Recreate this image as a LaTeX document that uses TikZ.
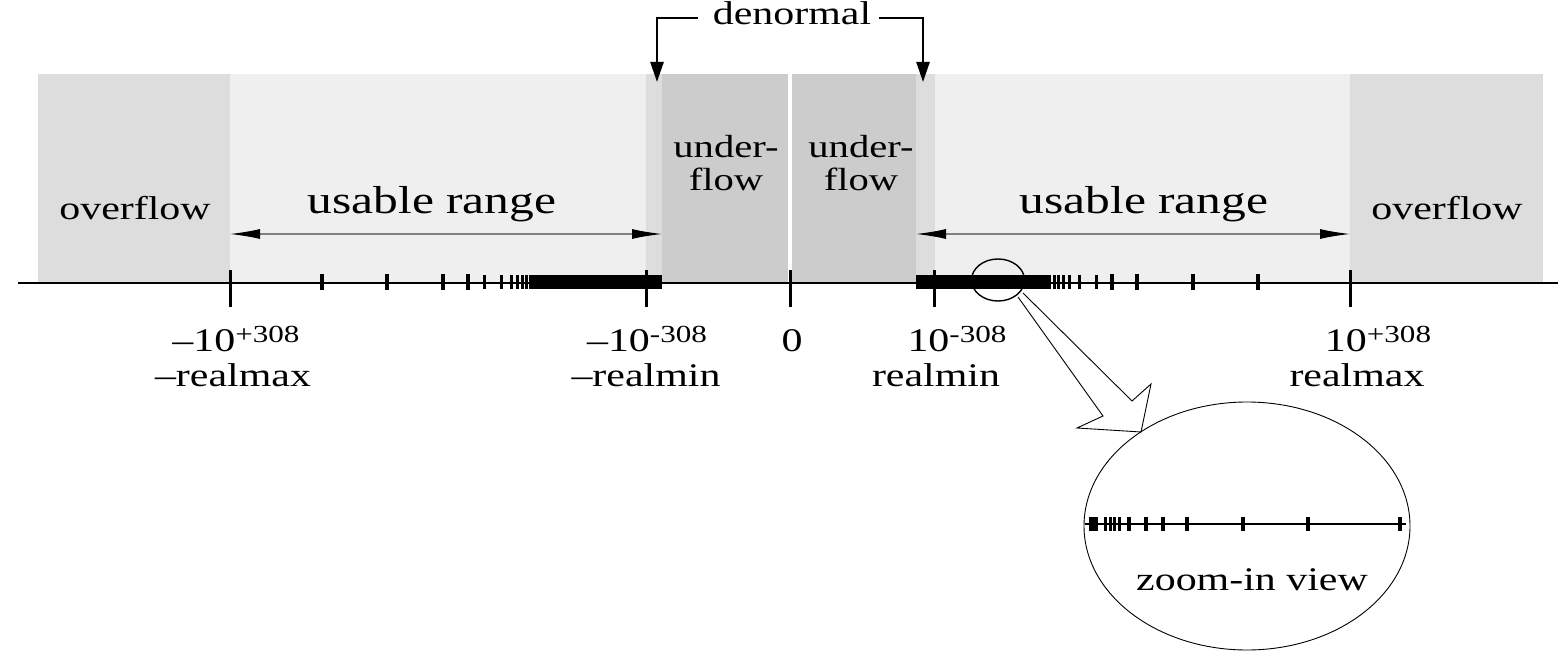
\documentclass[tikz,border=0pt]{standalone}
\usepackage{fontspec}
\setmainfont{Liberation Serif}
\usepackage{graphicx}
\usetikzlibrary{arrows.meta,shapes.geometric}
\definecolor{ovf}{gray}{0.867}
\definecolor{usa}{gray}{0.937}
\definecolor{udf}{gray}{0.80}
\newcommand{\hs}[1]{\scalebox{1.27}[1]{#1}}
\newcommand{\expo}[1]{\raisebox{8.5pt}{\fontsize{24.5}{28}\selectfont #1}}
\tikzset{
  lbl/.style={inner sep=0pt, anchor=base, font=\fontsize{33}{40}\selectfont},
  bigtick/.style={line width=3pt},
  smalltick/.style={line width=3pt},
  axisline/.style={line width=2.5pt},
  rangearrow/.style={draw=gray, line width=1.3pt, {Latex[length=30pt,width=10pt,black]}-{Latex[length=30pt,width=10pt,black]}},
  denarrow/.style={line width=2.5pt, line join=miter, -{Triangle[length=20pt,width=13pt]}},
}
\begin{document}
\begin{tikzpicture}[x=1pt,y=-1pt]
\useasboundingbox (0,0) rectangle (1558,663);
% bands
\fill[ovf] (38,74) rectangle (230,283);
\fill[usa] (230,74) rectangle (646,283);
\fill[ovf] (646,74) rectangle (662,283);
\fill[udf] (662,74) rectangle (788,283);
\fill[udf] (792,74) rectangle (916,283);
\fill[ovf] (916,74) rectangle (935,283);
\fill[usa] (935,74) rectangle (1350,283);
\fill[ovf] (1350,74) rectangle (1543,283);
% texts in bands
\node[lbl] (ovl) at (135,219) {\hs{overflow}};
\node[lbl] (ovr) at (1447,219) {\hs{overflow}};
\node[lbl, font=\fontsize{39}{46}\selectfont] (usl) at (432,214) {\hs{usable range}};
\node[lbl, font=\fontsize{39}{46}\selectfont] (usr) at (1144,214) {\hs{usable range}};
\node[lbl, font=\fontsize{32}{38}\selectfont] (ul1) at (726,158) {\hs{under-}};
\node[lbl, font=\fontsize{32}{38}\selectfont] (ul2) at (726,191) {\hs{flow}};
\node[lbl, font=\fontsize{32}{38}\selectfont] (ur1) at (861,158) {\hs{under-}};
\node[lbl, font=\fontsize{32}{38}\selectfont] (ur2) at (861,191) {\hs{flow}};
% usable range arrows
\coordinate (mrmax) at (230,234);
\coordinate (mrmin) at (662,234);
\coordinate (prmin) at (916,234);
\coordinate (prmax) at (1350,234);
\draw[rangearrow] (mrmax) -- (mrmin);
\draw[rangearrow] (prmin) -- (prmax);
% denormal
\node[lbl] (den) at (792,25) {\hs{denormal}};
\coordinate (dl0) at (698,18);
\coordinate (dl1) at (657,18);
\coordinate (dl2) at (657,82);
\coordinate (dr0) at (879,18);
\coordinate (dr1) at (923,18);
\coordinate (dr2) at (923,82);
\draw[denarrow] (dl0) -- (dl1) -- (dl2);
\draw[denarrow] (dr0) -- (dr1) -- (dr2);
% axis
\coordinate (axl) at (18,283);
\coordinate (axr) at (1558,283);
\draw[axisline] (axl) -- (axr);
\fill (529,275) rectangle (662,289);
\fill (916,275) rectangle (1051,289);
\foreach \d in {264,268,273,279,289,306}{
  \draw[smalltick] (790-\d,275) -- (790-\d,289);
  \draw[smalltick] (790+\d,275) -- (790+\d,289);
}
\foreach \d in {322,347,403,468}{
  \draw[smalltick, line width=3.5pt] (790-\d,274) -- (790-\d,290);
  \draw[smalltick, line width=3.5pt] (790+\d,274) -- (790+\d,290);
}
\foreach \x in {230,646,790,934,1350}{
  \draw[bigtick] (\x,270) -- (\x,307);
}
% labels
\node[lbl] (t1) at (236,351) {\hs{–10\expo{+308}}};
\node[lbl] (t2) at (647,351) {\hs{–10\expo{-308}}};
\node[lbl] (t3) at (792,351) {\hs{0}};
\node[lbl] (t4) at (957,351) {\hs{10\expo{-308}}};
\node[lbl] (t5) at (1378,351) {\hs{10\expo{+308}}};
\node[lbl] (n1) at (233,386) {\hs{–realmax}};
\node[lbl] (n2) at (646,386) {\hs{–realmin}};
\node[lbl] (n4) at (936,386) {\hs{realmin}};
\node[lbl] (n5) at (1357,386) {\hs{realmax}};
% zoom callout
\node[draw, line width=1.4pt, ellipse, minimum width=53pt, minimum height=42pt, inner sep=0pt] (small) at (998,280) {};
\node[draw, line width=0.9pt, ellipse, minimum width=326pt, minimum height=248pt, inner sep=0pt] (big) at (1247,526) {};
\draw[line width=0.9pt, line join=miter] (1018,297) -- (1103,416) -- (1077,428) -- (1141,432) -- (1151,384) -- (1132,401) -- (1023,293);
% zoom-in axis
\coordinate (zl) at (1085,524);
\coordinate (zr) at (1406,524);
\draw[axisline] (zl) -- (zr);
\fill (1089,517) rectangle (1098,531);
\foreach \x in {1105,1110,1114,1119}{
  \draw[smalltick] (\x,517) -- (\x,531);
}
\foreach \x in {1129,1146,1163,1187,1243,1308,1400}{
  \draw[smalltick, line width=3.5pt] (\x,517) -- (\x,531);
}
\node[lbl] (zv) at (1252,590) {\hs{zoom-in view}};
\end{tikzpicture}
\end{document}
